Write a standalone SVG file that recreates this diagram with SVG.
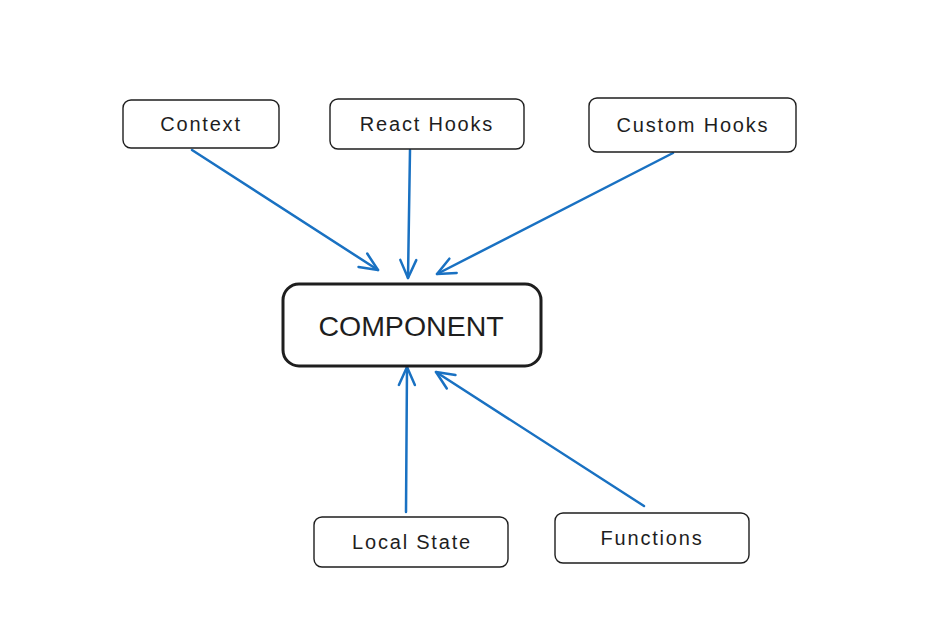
<svg xmlns="http://www.w3.org/2000/svg" width="925" height="619" viewBox="0 0 925 619">
<style>
.box{fill:#fff;stroke:#1e1e1e;stroke-width:1.4}
.main{fill:#fff;stroke:#1e1e1e;stroke-width:3}
.lbl{font-family:"Liberation Sans","DejaVu Sans",sans-serif;font-size:20px;fill:#1e1e1e;text-anchor:middle;dominant-baseline:central;letter-spacing:1.8px}
.big{font-family:"Liberation Sans",Arial,sans-serif;font-size:28.5px;fill:#1e1e1e;text-anchor:middle;dominant-baseline:central}
.edge{fill:none;stroke:#1971c2;stroke-width:2.5;stroke-linecap:round;marker-end:url(#ah)}
</style>
<defs>
<marker id="ah" markerUnits="userSpaceOnUse" markerWidth="30" markerHeight="30" refX="20" refY="10" orient="auto" overflow="visible">
<path d="M2,2 L20,10 L2,18" fill="none" stroke="#1971c2" stroke-width="2.5" stroke-linecap="round" stroke-linejoin="round"/>
</marker>
</defs>
<rect width="925" height="619" fill="#fff"/>
<g id="connectors">
<path class="edge" d="M192,150 L378,270"/>
<path class="edge" d="M410,150 L408,278"/>
<path class="edge" d="M673,153 L437,274"/>
<path class="edge" d="M406,512 L407,367"/>
<path class="edge" d="M644,506 L436,372"/>
</g>
<g id="context"><rect class="box" x="123" y="100" width="156" height="48" rx="8"/><text class="lbl" x="201" y="124">Context</text></g>
<g id="react-hooks"><rect class="box" x="330" y="99" width="194" height="50" rx="8"/><text class="lbl" x="427" y="124">React Hooks</text></g>
<g id="custom-hooks"><rect class="box" x="589" y="98" width="207" height="54" rx="8"/><text class="lbl" x="693" y="125">Custom Hooks</text></g>
<g id="component"><rect class="main" x="283" y="284" width="258" height="82" rx="16"/><text class="big" x="411" y="326">COMPONENT</text></g>
<g id="local-state"><rect class="box" x="314" y="517" width="194" height="50" rx="8"/><text class="lbl" x="412" y="542">Local State</text></g>
<g id="functions"><rect class="box" x="555" y="513" width="194" height="50" rx="8"/><text class="lbl" x="652" y="538">Functions</text></g>
</svg>
